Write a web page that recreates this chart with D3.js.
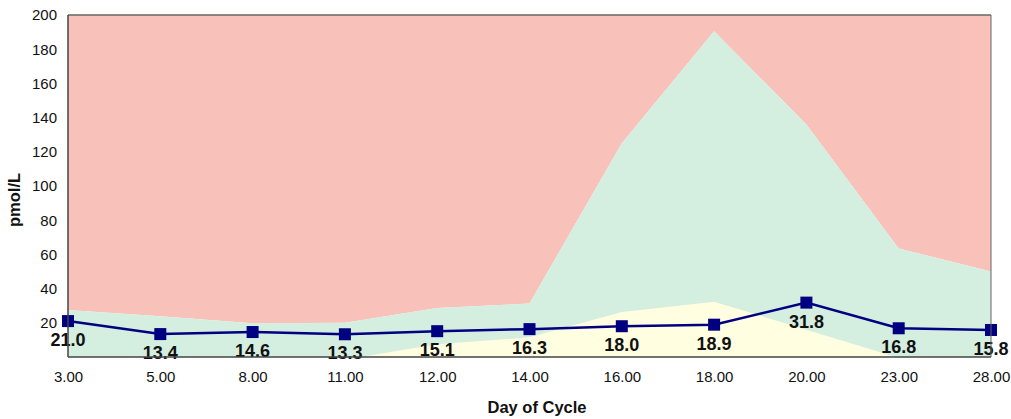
<!DOCTYPE html>
<html>
<head>
<meta charset="utf-8">
<script src="https://cdn.jsdelivr.net/npm/d3@7"></script>
<style>
  body { margin: 0; background: #fff; }
  svg { display: block; font-family: "Liberation Sans", Arial, Helvetica, sans-serif; }
</style>
</head>
<body>
<svg id="chart" width="1011" height="419"></svg>
<script>
// ---- data ----
const days = ["3.00", "5.00", "8.00", "11.00", "12.00", "14.00", "16.00", "18.00", "20.00", "23.00", "28.00"];
const values = [21.0, 13.4, 14.6, 13.3, 15.1, 16.3, 18.0, 18.9, 31.8, 16.8, 15.8];
const lowBand = [0, 0, 0, -1.5, 7.5, 11.5, 26.3, 32.3, 16, -0.5, 0];     // yellow top
const normalTop = [27.5, 23.8, 19.8, 20, 28.6, 31.3, 125, 190.5, 136, 63.5, 50]; // green top
const highTop = [200, 200, 200, 200, 200, 200, 200, 200, 200, 200, 200];  // red top
const yTicks = [20, 40, 60, 80, 100, 120, 140, 160, 180, 200];

// ---- layout ----
const svg = d3.select("#chart");
const L = 68, R = 991, T = 15, B = 357;

const x = d3.scalePoint().domain(days).range([L, R]);
const y = d3.scaleLinear().domain([0, 200]).range([B, T]);

svg.append("defs").append("clipPath").attr("id", "plotclip")
  .append("rect").attr("x", L).attr("y", T).attr("width", R - L).attr("height", B - T);

const g = svg.append("g").attr("clip-path", "url(#plotclip)");

const idx = d3.range(days.length);
const area = (lo, hi) => d3.area()
  .x(i => x(days[i]))
  .y0(i => y(lo[i]))
  .y1(i => y(hi[i]))(idx);

const zeros = days.map(() => 0);
g.append("path").attr("d", area(normalTop, highTop)).attr("fill", "#F8C1B9");
g.append("path").attr("d", area(zeros, normalTop)).attr("fill", "#D4EEDF");
g.append("path").attr("d", area(zeros, lowBand)).attr("fill", "#FFFEE0");

// labels (drawn before axis line so line sits on top)
const labG = svg.append("g");
labG.selectAll("text").data(idx).join("text")
  .attr("x", i => x(days[i]))
  .attr("y", i => y(values[i]) + 25)
  .attr("text-anchor", "middle")
  .attr("font-size", 18)
  .attr("font-weight", "bold")
  .attr("fill", "#111")
  .text(i => values[i].toFixed(1));

// line + markers
const line = d3.line().x(i => x(days[i])).y(i => y(values[i]));
svg.append("path").attr("d", line(idx))
  .attr("fill", "none").attr("stroke", "#000080").attr("stroke-width", 2.5);
svg.append("g").selectAll("rect").data(idx).join("rect")
  .attr("x", i => x(days[i]) - 6)
  .attr("y", i => y(values[i]) - 6)
  .attr("width", 12).attr("height", 12)
  .attr("fill", "#000080");

// frame
svg.append("line").attr("x1", L).attr("x2", R).attr("y1", T).attr("y2", T)
  .attr("stroke", "#666").attr("stroke-width", 1.5);
svg.append("line").attr("x1", R).attr("x2", R).attr("y1", T).attr("y2", B)
  .attr("stroke", "#666").attr("stroke-width", 1);
svg.append("line").attr("x1", L).attr("x2", L).attr("y1", T).attr("y2", B)
  .attr("stroke", "#444").attr("stroke-width", 1.5);
svg.append("line").attr("x1", L).attr("x2", R).attr("y1", B).attr("y2", B)
  .attr("stroke", "#444").attr("stroke-width", 1.5);

// y axis labels
const yAxis = d3.axisLeft(y).tickValues(yTicks).tickSize(0).tickPadding(11);
const ya = svg.append("g").attr("transform", `translate(${L},0)`).call(yAxis);
ya.select(".domain").remove();
ya.selectAll("text").attr("font-size", 15).attr("fill", "#111")
  .attr("font-family", "'Liberation Sans', Arial, sans-serif");

// x axis labels
const xAxis = d3.axisBottom(x).tickSize(0).tickPadding(14);
const xa = svg.append("g").attr("transform", `translate(0,${B})`).call(xAxis);
xa.select(".domain").remove();
xa.selectAll("text").attr("font-size", 15).attr("fill", "#111")
  .attr("font-family", "'Liberation Sans', Arial, sans-serif");

// titles
svg.append("text").attr("x", 537).attr("y", 413)
  .attr("text-anchor", "middle").attr("font-size", 16.5).attr("font-weight", "bold")
  .attr("fill", "#111").text("Day of Cycle");
svg.append("text")
  .attr("transform", "translate(20,200) rotate(-90)")
  .attr("text-anchor", "middle").attr("font-size", 16.5).attr("font-weight", "bold")
  .attr("fill", "#111").text("pmol/L");
</script>
</body>
</html>
